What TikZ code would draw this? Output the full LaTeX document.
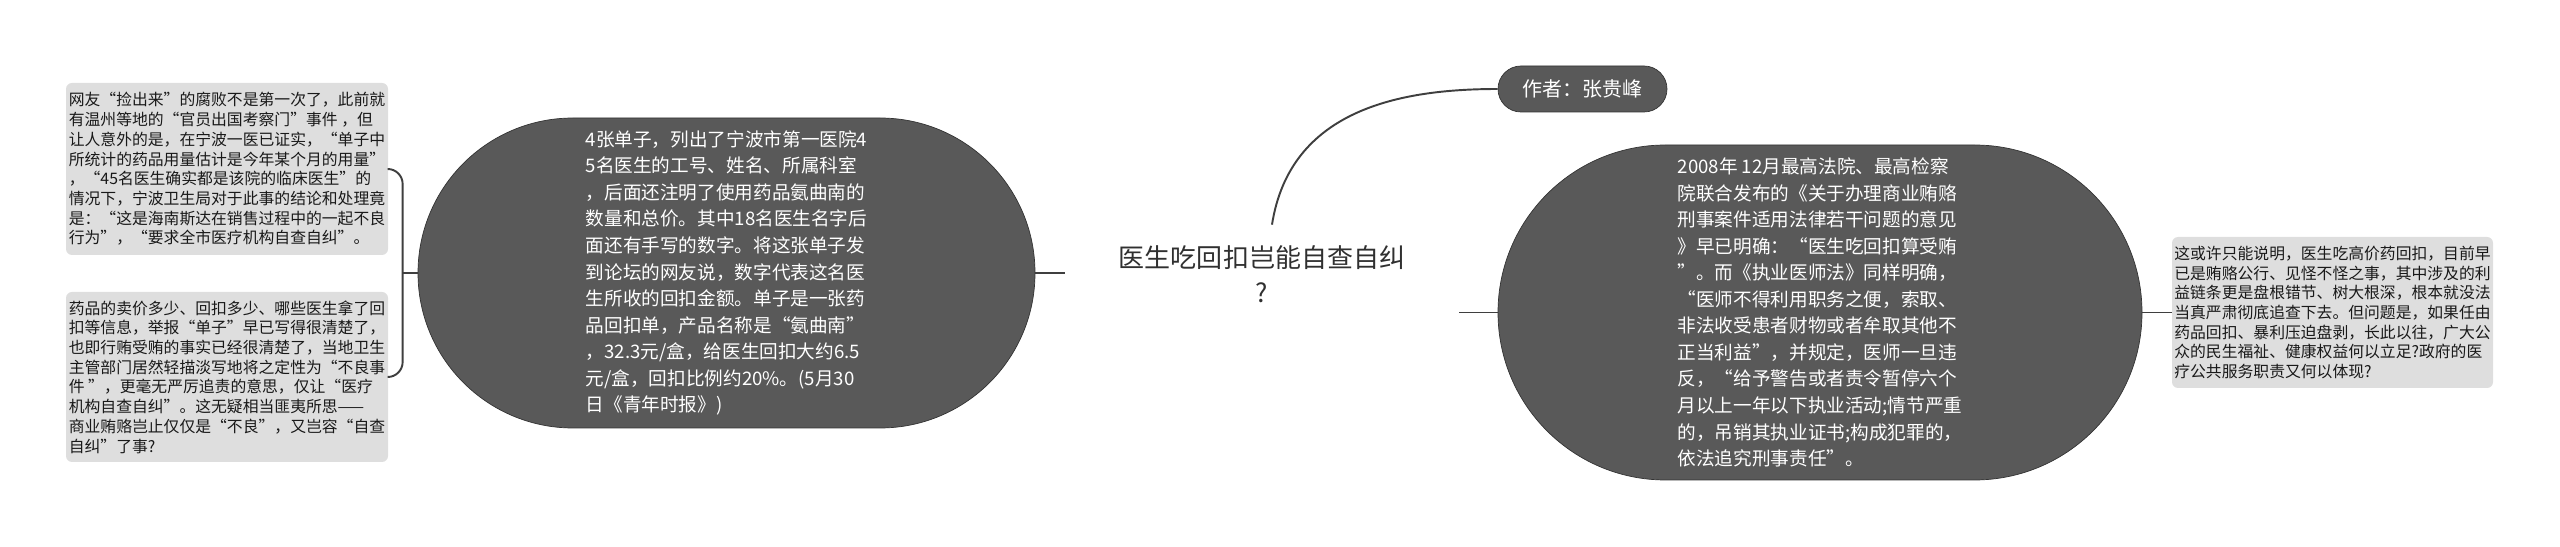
\documentclass[tikz,border=0pt]{standalone}
\usepackage{fontspec}
\setmainfont{Noto Sans CJK SC}
\usetikzlibrary{shapes.misc,calc}
\definecolor{ovgray}{HTML}{595959}
\definecolor{notegray}{HTML}{DEDEDE}
\definecolor{linkgray}{HTML}{3F3F3F}
\definecolor{topicgray}{HTML}{303030}

\begin{document}
\begin{tikzpicture}[
    link/.style={draw=linkgray, line width=1.1pt},
    bigov/.style={rounded rectangle, draw=black!80, line width=0.4pt,
               fill=ovgray, text=white, align=left, inner sep=0pt,
               font=\fontsize{10.6pt}{15.1pt}\selectfont},
    note/.style={fill=notegray, rounded corners=0.12cm, align=left,
               minimum width=6.44cm, inner sep=0pt, text=black!90,
               font=\fontsize{9pt}{11.2pt}\selectfont},
    topic/.style={align=center, text=topicgray,
               minimum width=7.88cm, minimum height=1.56cm,
               font=\fontsize{14.8pt}{19.9pt}\selectfont}]
  \useasboundingbox (0,0) rectangle (51.2,10.94);

  %% Central topic
  \node[topic] (topic) at (25.24,5.46)
    {医生吃回扣岂能自查自纠\\?};

  %% Author
  \node[bigov, align=center, minimum width=3.38cm, minimum height=0.92cm,
        font=\fontsize{11.4pt}{14pt}\selectfont] (author) at (31.65,9.16)
    {作者：张贵峰};

  %% Left branch
  \node[bigov, minimum width=12.34cm, minimum height=6.2cm] (ovl) at (14.53,5.48)
    {4张单子，列出了宁波市第一医院4\\
     5名医生的工号、姓名、所属科室\\
     ，后面还注明了使用药品氨曲南的\\
     数量和总价。其中18名医生名字后\\
     面还有手写的数字。将这张单子发\\
     到论坛的网友说，数字代表这名医\\
     生所收的回扣金额。单子是一张药\\
     品回扣单，产品名称是“氨曲南”\\
     ，32.3元/盒，给医生回扣大约6.5\\
     元/盒，回扣比例约20\%。(5月30\\
     日《青年时报》)};

  \node[note, minimum height=3.44cm] (nl1) at (4.54,7.56)
    {网友“捡出来”的腐败不是第一次了，此前就\\
     有温州等地的“官员出国考察门”事件 ，但\\
     让人意外的是，在宁波一医已证实，“单子中\\
     所统计的药品用量估计是今年某个月的用量”\\
     ，“45名医生确实都是该院的临床医生”的\\
     情况下，宁波卫生局对于此事的结论和处理竟\\
     是：“这是海南斯达在销售过程中的一起不良\\
     行为”，“要求全市医疗机构自查自纠”。};

  \node[note, minimum height=3.4cm] (nl2) at (4.54,3.40)
    {药品的卖价多少、回扣多少、哪些医生拿了回\\
     扣等信息，举报“单子”早已写得很清楚了，\\
     也即行贿受贿的事实已经很清楚了，当地卫生\\
     主管部门居然轻描淡写地将之定性为“不良事\\
     件 ”，更毫无严厉追责的意思，仅让“医疗\\
     机构自查自纠”。这无疑相当匪夷所思——\\
     商业贿赂岂止仅仅是“不良”，又岂容“自查\\
     自纠”了事?};

  %% Right branch
  \node[bigov, minimum width=12.88cm, minimum height=6.7cm] (ovr) at (36.40,4.69)
    {2008年 12月最高法院、最高检察\\
     院联合发布的《关于办理商业贿赂\\
     刑事案件适用法律若干问题的意见\\
     》早已明确：“医生吃回扣算受贿\\
     ”。而《执业医师法》同样明确，\\
     “医师不得利用职务之便，索取、\\
     非法收受患者财物或者牟取其他不\\
     正当利益”，并规定，医师一旦违\\
     反，“给予警告或者责令暂停六个\\
     月以上一年以下执业活动;情节严重\\
     的，吊销其执业证书;构成犯罪的，\\
     依法追究刑事责任”。};

  \node[note, minimum width=6.42cm, minimum height=3.02cm] (nr) at (46.65,4.69)
    {这或许只能说明，医生吃高价药回扣，目前早\\
     已是贿赂公行、见怪不怪之事，其中涉及的利\\
     益链条更是盘根错节、树大根深，根本就没法\\
     当真严肃彻底追查下去。但问题是，如果任由\\
     药品回扣、暴利压迫盘剥，长此以往，广大公\\
     众的民生福祉、健康权益何以立足?政府的医\\
     疗公共服务职责又何以体现?};

  %% Connectors
  \draw[link] (ovl.east) -- (ovl.east -| topic.west);
  \draw[link] (ovr.west -| topic.east) -- (ovr.west);
  \draw[link] ($(topic.north)+(0.2,0.2)$) .. controls +(0.36,2.3) and +(-1.96,0) .. (author.west);
  \draw[link] (ovl.west) -- ++(-0.3,0) coordinate (fork);
  \draw[link, rounded corners=0.3cm] (nl1.east) -| (fork) |- (nl2.east);
  \draw[link] (ovr.east) -- (nr.west);
\end{tikzpicture}
\end{document}
